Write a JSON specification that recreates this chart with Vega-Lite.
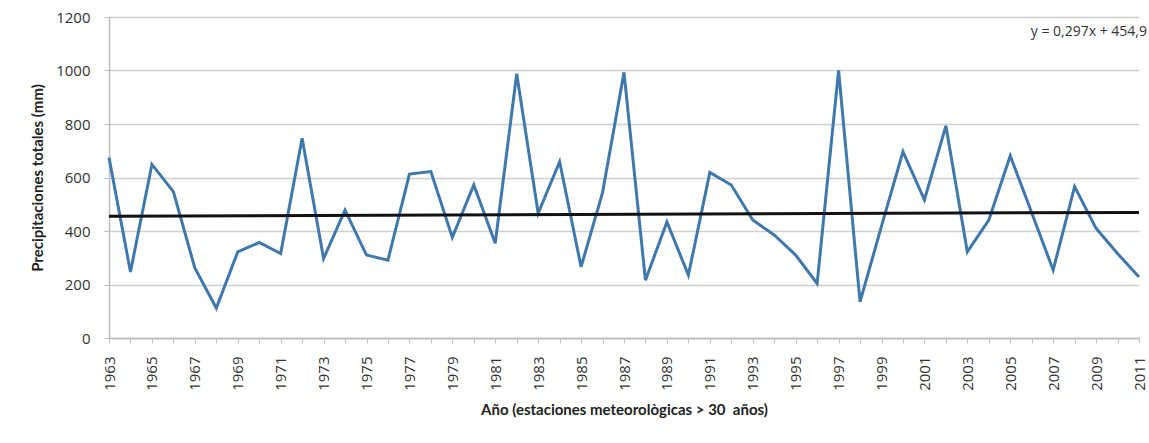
{
  "$schema": "https://vega.github.io/schema/vega-lite/v6.json",
  "width": 1030,
  "height": 321,
  "autosize": {"type": "none"},
  "padding": {"left": 109, "top": 17, "right": 10, "bottom": 105},
  "background": "white",
  "config": {"font": "Lato", "view": {"stroke": null}},
  "encoding": {
    "x": {
      "field": "year", "type": "quantitative",
      "scale": {"domain": [1963, 2011], "nice": false, "zero": false},
      "axis": {
        "title": "Año (estaciones meteorològicas > 30\u00a0 años)",
        "titleFont": "Lato", "titleFontSize": 15, "titleFontWeight": "bold", "titleColor": "#222222", "titlePadding": 12,
        "values": [1963,1964,1965,1966,1967,1968,1969,1970,1971,1972,1973,1974,1975,1976,1977,1978,1979,1980,1981,1982,1983,1984,1985,1986,1987,1988,1989,1990,1991,1992,1993,1994,1995,1996,1997,1998,1999,2000,2001,2002,2003,2004,2005,2006,2007,2008,2009,2010,2011],
        "labelExpr": "(datum.value - 1963) % 2 == 0 ? datum.value : ''",
        "format": "d",
        "labelAngle": -90, "labelFontSize": 15, "labelColor": "#333333", "labelPadding": 13, "labelFont": "Open Sans",
        "tickSize": 5, "tickColor": "#bdbdbd", "domainColor": "#bdbdbd", "domainWidth": 1.5,
        "grid": false, "labelOverlap": false
      }
    },
    "y": {
      "field": "mm", "type": "quantitative",
      "scale": {"domain": [0, 1200], "nice": false},
      "axis": {
        "title": "Precipitaciones totales (mm)",
        "titleFont": "Lato", "titleFontSize": 15, "titleFontWeight": "bold", "titleColor": "#222222", "titlePadding": 10,
        "values": [0, 200, 400, 600, 800, 1000, 1200],
        "format": "d",
        "labelFontSize": 15, "labelColor": "#333333", "labelPadding": 14, "labelFont": "Open Sans",
        "tickSize": 5, "tickColor": "#bdbdbd", "domainColor": "#bdbdbd", "domainWidth": 1.5,
        "grid": true, "gridColor": "#cfcfcf", "gridWidth": 1.5
      }
    }
  },
  "layer": [
    {
      "data": {"values": [
        {"year": 1963, "mm": 675}, {"year": 1964, "mm": 247}, {"year": 1965, "mm": 649},
        {"year": 1966, "mm": 547}, {"year": 1967, "mm": 262}, {"year": 1968, "mm": 112},
        {"year": 1969, "mm": 322}, {"year": 1970, "mm": 357}, {"year": 1971, "mm": 316},
        {"year": 1972, "mm": 747}, {"year": 1973, "mm": 297}, {"year": 1974, "mm": 478},
        {"year": 1975, "mm": 310}, {"year": 1976, "mm": 291}, {"year": 1977, "mm": 613},
        {"year": 1978, "mm": 622}, {"year": 1979, "mm": 376}, {"year": 1980, "mm": 572},
        {"year": 1981, "mm": 354}, {"year": 1982, "mm": 988}, {"year": 1983, "mm": 466},
        {"year": 1984, "mm": 659}, {"year": 1985, "mm": 266}, {"year": 1986, "mm": 543},
        {"year": 1987, "mm": 993}, {"year": 1988, "mm": 216}, {"year": 1989, "mm": 434},
        {"year": 1990, "mm": 235}, {"year": 1991, "mm": 619}, {"year": 1992, "mm": 572},
        {"year": 1993, "mm": 441}, {"year": 1994, "mm": 385}, {"year": 1995, "mm": 310},
        {"year": 1996, "mm": 204}, {"year": 1997, "mm": 1000}, {"year": 1998, "mm": 135},
        {"year": 1999, "mm": 418}, {"year": 2000, "mm": 697}, {"year": 2001, "mm": 516},
        {"year": 2002, "mm": 793}, {"year": 2003, "mm": 322}, {"year": 2004, "mm": 441},
        {"year": 2005, "mm": 681}, {"year": 2006, "mm": 468}, {"year": 2007, "mm": 254},
        {"year": 2008, "mm": 566}, {"year": 2009, "mm": 410}, {"year": 2010, "mm": 316},
        {"year": 2011, "mm": 228}
      ]},
      "mark": {"type": "line", "color": "#3f78ab", "strokeWidth": 3, "strokeJoin": "miter"}
    },
    {
      "data": {"values": [{"year": 1963, "mm": 455.2}, {"year": 2011, "mm": 469.5}]},
      "mark": {"type": "line", "color": "#111111", "strokeWidth": 3}
    },
    {
      "data": {"values": [{"year": 2011, "mm": 1145, "label": "y = 0,297x + 454,9"}]},
      "mark": {"type": "text", "align": "right", "baseline": "middle", "dx": 8, "fontSize": 14, "font": "Open Sans", "color": "#333333"},
      "encoding": {"text": {"field": "label"}}
    }
  ]
}
